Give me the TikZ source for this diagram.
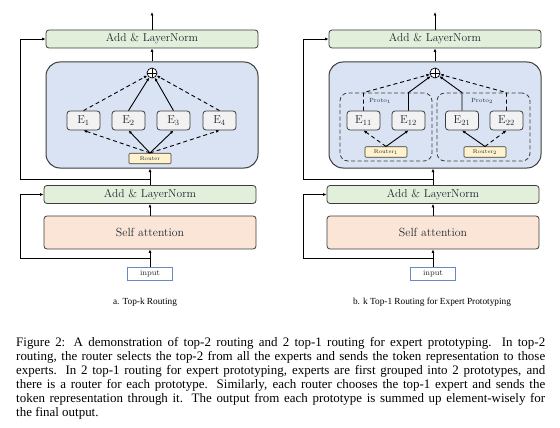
\documentclass[tikz,border=0pt]{standalone}
\usepackage{fontspec}
\newfontfamily\capfont{Liberation Serif}
\usetikzlibrary{arrows.meta}
\definecolor{boxline}{HTML}{3C3C3C}
\definecolor{lngreen}{HTML}{E2EFDA}
\definecolor{moeblue}{HTML}{DAE3F3}
\definecolor{salmon}{HTML}{FBE5D6}
\definecolor{egray}{HTML}{F2F2F2}
\definecolor{ryellow}{HTML}{FFF2CC}
\definecolor{inblue}{HTML}{6A88C2}
\definecolor{txt}{HTML}{1E2833}
\begin{document}
\begin{tikzpicture}[x=1pt,y=-1pt,
  box/.style={draw=boxline, line width=0.8pt, rounded corners=3pt, inner sep=0pt, text=txt},
  addln/.style={box, fill=lngreen, minimum width=212pt, minimum height=18pt, font=\fontsize{11.5}{12}\selectfont},
  selfatt/.style={box, fill=salmon, minimum width=212pt, minimum height=33pt, font=\fontsize{11.8}{12}\selectfont},
  moe/.style={draw=boxline, line width=1pt, fill=moeblue, rounded corners=14pt, minimum width=212pt, minimum height=106pt, inner sep=0pt},
  expert/.style={box, fill=egray, minimum width=33pt, minimum height=19pt, font=\fontsize{11.5}{12}\selectfont},
  routerbox/.style={draw=boxline, line width=0.6pt, fill=ryellow, rounded corners=1pt, inner sep=0pt, minimum width=42pt, minimum height=10.5pt, font=\fontsize{5.5}{6}\selectfont, text=txt},
  inputbox/.style={draw=inblue, line width=0.8pt, fill=white, inner sep=0pt, minimum width=45pt, minimum height=13pt, font=\fontsize{8}{9}\selectfont, text=txt},
  proto/.style={draw=boxline, line width=0.8pt, dashed, dash pattern=on 4pt off 2.5pt, rounded corners=8pt, minimum width=92pt, minimum height=68pt, inner sep=0pt},
  protolabel/.style={font=\fontsize{6}{7}\selectfont, text=txt, inner sep=0pt},
  oplus/.style={circle, draw=black, line width=0.7pt, fill=white, minimum size=10pt, inner sep=0pt,
    path picture={\draw[line width=0.7pt] (path picture bounding box.north) -- (path picture bounding box.south)
      (path picture bounding box.west) -- (path picture bounding box.east);}},
  conn/.style={line width=0.9pt, draw=black, -{Latex[length=3.5pt,width=3pt]}},
  dconn/.style={conn, dash pattern=on 4pt off 3pt},
  subcap/.style={font=\capfont\fontsize{9.3}{10}\selectfont, inner sep=0pt}
]
\path[use as bounding box] (0,0) rectangle (560,428);

% ---------------- left panel ----------------
\node[addln] (aln2) at (152,39) {Add \& LayerNorm};
\node[moe] (amoe) at (152,115) {};
\node[addln] (aln1) at (150,194.5) {Add \& LayerNorm};
\node[selfatt] (asa) at (150,232.5) {Self attention};
\node[inputbox] (ain) at (150,273.5) {input};
\node[oplus] (aplus) at (152,73) {};
\node[expert] (ae1) at (83.5,120.5) {E$_1$};
\node[expert] (ae2) at (128.5,120.5) {E$_2$};
\node[expert] (ae3) at (173.5,120.5) {E$_3$};
\node[expert] (ae4) at (219.5,120.5) {E$_4$};
\node[routerbox] (arouter) at (150,158.5) {Router};
\coordinate (aout) at (152,12);
\coordinate (ar1) at (20,258);
\coordinate (ar2) at (20,179);

\draw[conn] (ain.north) -- (asa.south);
\draw[conn] (asa.north) -- (aln1.south);
\draw[conn] (aln1.north) -- (aln1.north |- amoe.south);
\draw[conn] (amoe.north) -- (aln2.south);
\draw[conn] (aln2.north) -- (aout);
\draw[conn] (ain.north |- ar1) -- (ar1) -- (ar1 |- aln1.west) -- (aln1.west);
\draw[conn] (aln1.north |- ar2) -- (ar2) -- (ar2 |- aln2.west) -- (aln2.west);
\draw[dconn] (ae1.north) -- (aplus);
\draw[conn] (ae2.north) -- (aplus);
\draw[conn] (ae3.north) -- (aplus);
\draw[dconn] (ae4.north) -- (aplus);
\draw[dconn] (arouter.north) -- (ae1.south);
\draw[conn] (arouter.north) -- (ae2.south);
\draw[conn] (arouter.north) -- (ae3.south);
\draw[dconn] (arouter.north) -- (ae4.south);
\node[subcap] (acap) at (145,302) {a. Top-k Routing};

% ---------------- right panel ----------------
\node[addln] (bln2) at (435,39) {Add \& LayerNorm};
\node[moe] (bmoe) at (435,115) {};
\node[addln] (bln1) at (433,194.5) {Add \& LayerNorm};
\node[selfatt] (bsa) at (433,232.5) {Self attention};
\node[inputbox] (bin) at (433,273.5) {input};
\node[proto] (bp1) at (386,127) {};
\node[proto, minimum width=93pt] (bp2) at (483.5,127) {};
\node[protolabel] (bpl1) at (380,101) {Proto$_1$};
\node[protolabel] (bpl2) at (482,101) {Proto$_2$};
\node[oplus] (bplus) at (435,73) {};
\node[expert] (be11) at (363.5,120.5) {E$_{11}$};
\node[expert] (be12) at (408.5,120.5) {E$_{12}$};
\node[expert] (be21) at (462,120.5) {E$_{21}$};
\node[expert] (be22) at (506.5,120.5) {E$_{22}$};
\node[routerbox] (br1) at (386,152) {Router$_1$};
\node[routerbox] (br2) at (485,152) {Router$_2$};
\coordinate (bout) at (435,12);
\coordinate (br1c) at (303,258);
\coordinate (br2c) at (303,179);

\draw[conn] (bin.north) -- (bsa.south);
\draw[conn] (bsa.north) -- (bln1.south);
\draw[conn] (bln1.north) -- (bln1.north |- bmoe.south);
\draw[conn] (bmoe.north) -- (bln2.south);
\draw[conn] (bln2.north) -- (bout);
\draw[conn] (bin.north |- br1c) -- (br1c) -- (br1c |- bln1.west) -- (bln1.west);
\draw[conn] (bln1.north |- br2c) -- (br2c) -- (br2c |- bln2.west) -- (bln2.west);
\draw[dconn] (be11.north) -- (be11.north |- bp1.north) -- (bplus);
\draw[conn] (be12.north) -- (be12.north |- bp1.north) -- (bplus);
\draw[conn] (be21.north) -- (be21.north |- bp2.north) -- (bplus);
\draw[dconn] (be22.north) -- (be22.north |- bp2.north) -- (bplus);
\draw[dconn] (br1.north) -- (be11.south);
\draw[conn] (br1.north) -- (be12.south);
\draw[conn] (br2.north) -- (be21.south);
\draw[dconn] (br2.north) -- (be22.south);
\node[subcap] (bcap) at (432,302) {b. k Top-1 Routing for Expert Prototyping};

% ---------------- caption ----------------
\node[anchor=base west, inner sep=0pt, text width=529pt, align=justify,
  font=\capfont\fontsize{12.95}{14}\selectfont] (figcap) at (16,346.5)
{\hyphenpenalty=10000 Figure 2: A demonstration of top-2 routing and 2 top-1 routing for expert prototyping. In top-2\linebreak
routing, the router selects the top-2 from all the experts and sends the token representation to those\linebreak
experts. In 2 top-1 routing for expert prototyping, experts are first grouped into 2 prototypes, and\linebreak
there is a router for each prototype. Similarly, each router chooses the top-1 expert and sends the\linebreak
token representation through it. The output from each prototype is summed up element-wisely for\linebreak
the final output.};
\end{tikzpicture}
\end{document}
